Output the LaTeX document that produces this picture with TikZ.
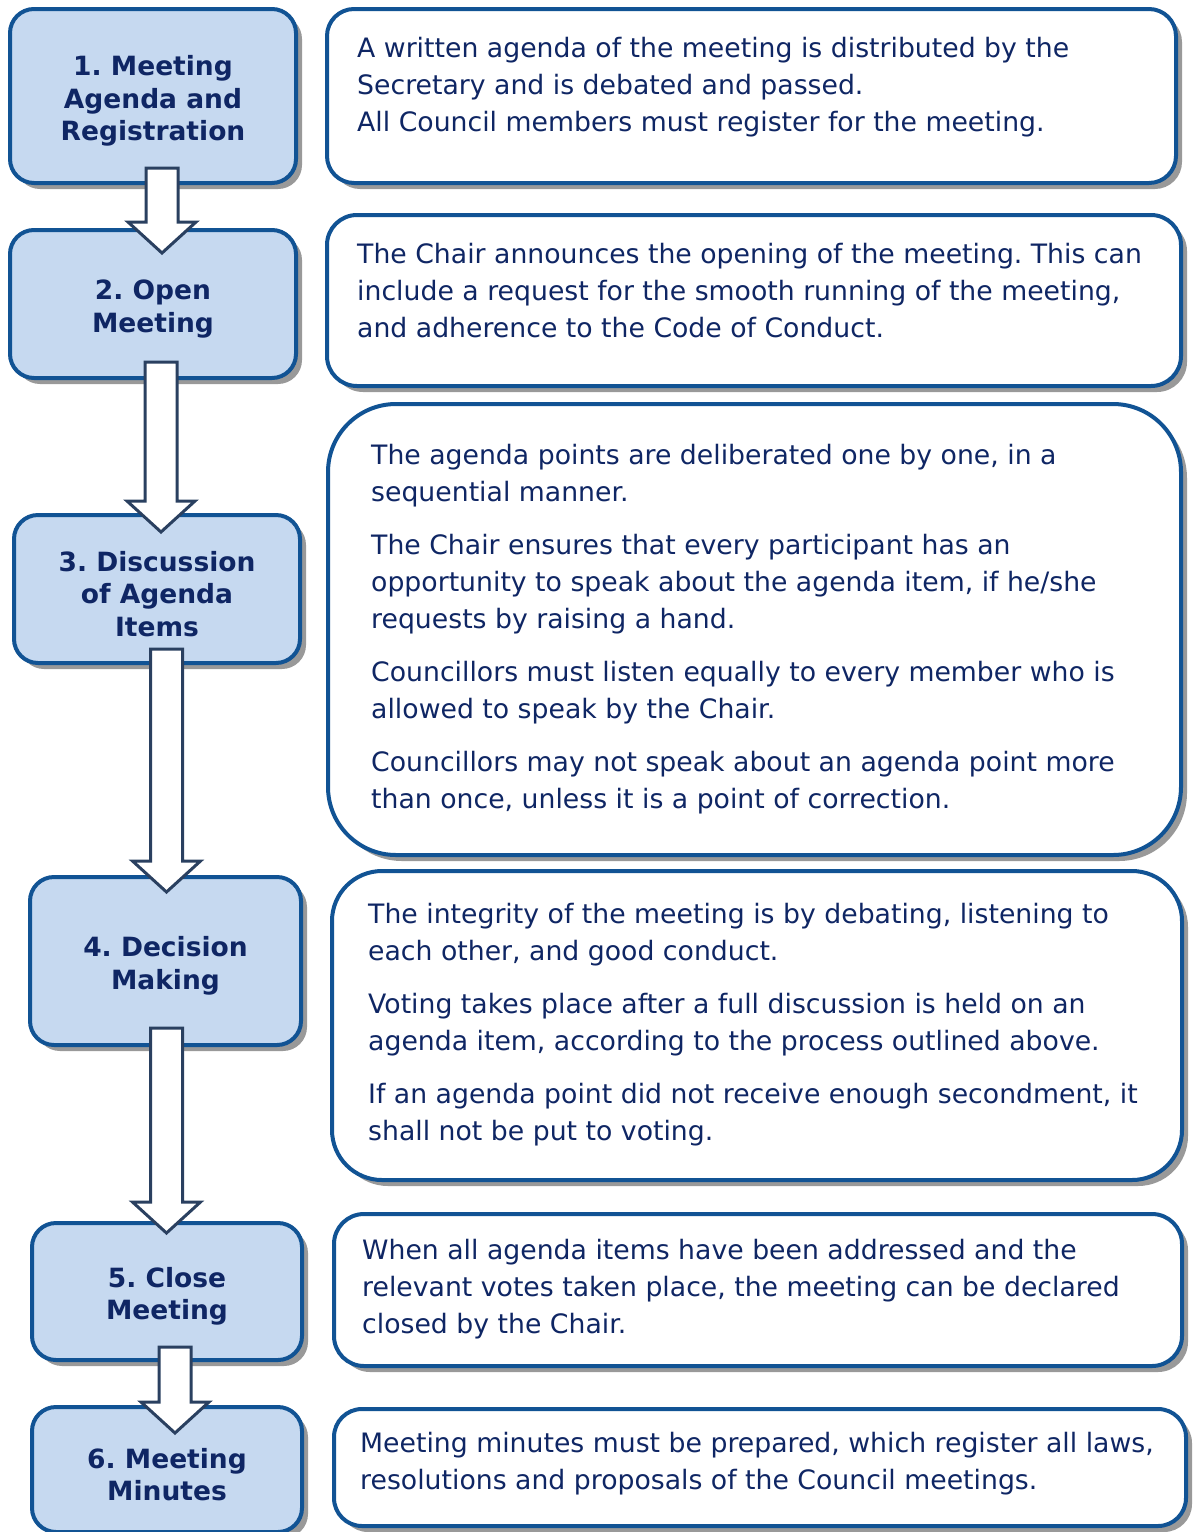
\documentclass[tikz,border=0pt]{standalone}
\usepackage{fontspec}
\setmainfont{DejaVu Sans}
\frenchspacing
\usetikzlibrary{shadows, calc, positioning}
\definecolor{boxblue}{RGB}{17,83,148}
\definecolor{stepfill}{RGB}{198,217,240}
\definecolor{txtnavy}{RGB}{15,38,100}
\definecolor{arrowline}{RGB}{42,64,96}
\newcommand\steplift{\rule{0pt}{30pt}}

\begin{document}
\begin{tikzpicture}[x=1pt, y=-1pt,
    boxshadow/.style={drop shadow={shadow xshift=6pt, shadow yshift=-6pt,
        fill=black!40, opacity=1}},
    stepbox/.style={draw=boxblue, line width=4pt, fill=stepfill,
        rounded corners=24pt, boxshadow, text=txtnavy, align=center,
        font=\fontsize{26.5}{32.5}\selectfont\bfseries},
    descbox/.style={draw=boxblue, line width=4pt, fill=white, boxshadow},
    desctext/.style={anchor=west, align=left, inner sep=0pt, text=txtnavy,
        font=\fontsize{26.7}{37}\selectfont},
    blockarrow/.style={draw=arrowline, line width=3pt, fill=white,
        to path={let \p1=(\tikztostart), \p2=(\tikztotarget) in
            (\x1-16pt,\y1) -- (\x1-16pt,\y2+31pt) -- (\x1-34pt,\y2+31pt)
            -- (\x1,\y2) -- (\x1+34pt,\y2+31pt) -- (\x1+16pt,\y2+31pt)
            -- (\x1+16pt,\y1) -- cycle}}]

    \useasboundingbox (0,0) rectangle (1192,1532);

    % steps on the left
    \node[stepbox, minimum width=286pt, minimum height=174pt] (s1) at (153,96)
        {\steplift 1. Meeting\\Agenda and\\Registration};
    \node[stepbox, minimum width=286pt, minimum height=148pt] (s2) at (153,304)
        {\steplift 2. Open\\Meeting};
    \node[stepbox, minimum width=286pt, minimum height=148pt] (s3) at (157,589)
        {\steplift 3. Discussion\\of Agenda\\Items};
    \node[stepbox, minimum width=271pt, minimum height=168pt] (s4) at (165.5,961)
        {\steplift 4. Decision\\Making};
    \node[stepbox, minimum width=270pt, minimum height=137pt] (s5) at (167,1291.5)
        {\steplift 5. Close\\Meeting};
    \node[stepbox, minimum width=270pt, minimum height=125pt] (s6) at (167,1469.5)
        {\steplift 6. Meeting\\Minutes};

    % descriptions on the right
    \node[descbox, rounded corners=27pt, minimum width=849pt, minimum height=174pt] (d1) at (751.5,96) {};
    \node[descbox, rounded corners=30pt, minimum width=854pt, minimum height=171pt] (d2) at (754,300.5) {};
    \node[descbox, rounded corners=68pt, minimum width=853pt, minimum height=451pt] (d3) at (754.5,629.5) {};
    \node[descbox, rounded corners=50pt, minimum width=850pt, minimum height=309pt] (d4) at (757,1025.5) {};
    \node[descbox, rounded corners=30pt, minimum width=848pt, minimum height=152pt] (d5) at (758,1290) {};
    \node[descbox, rounded corners=28pt, minimum width=852pt, minimum height=117pt] (d6) at (760,1467.5) {};

    \node[desctext] (t1) at (357,87)
        {A written agenda of the meeting is distributed by the\\
         Secretary and is debated and passed.\\
         All Council members must register for the meeting.};
    \node[desctext] (t2) at (357,291)
        {The Chair announces the opening of the meeting. This can\\
         include a request for the smooth running of the meeting,\\
         and adherence to the Code of Conduct.};
    \node[desctext] (t3) at (371,629)
        {The agenda points are deliberated one by one, in a\\
         sequential manner.\\[16pt]
         The Chair ensures that every participant has an\\
         opportunity to speak about the agenda item, if he/she\\
         requests by raising a hand.\\[16pt]
         Councillors must listen equally to every member who is\\
         allowed to speak by the Chair.\\[16pt]
         Councillors may not speak about an agenda point more\\
         than once, unless it is a point of correction.};
    \node[desctext] (t4) at (368,1025)
        {The integrity of the meeting is by debating, listening to\\
         each other, and good conduct.\\[16pt]
         Voting takes place after a full discussion is held on an\\
         agenda item, according to the process outlined above.\\[16pt]
         If an agenda point did not receive enough secondment, it\\
         shall not be put to voting.};
    \node[desctext] (t5) at (362,1289)
        {When all agenda items have been addressed and the\\
         relevant votes taken place, the meeting can be declared\\
         closed by the Chair.};
    \node[desctext] (t6) at (360,1464)
        {Meeting minutes must be prepared, which register all laws,\\
         resolutions and proposals of the Council meetings.};

    % block arrows between the steps
    \draw[blockarrow] ([xshift=9pt,yshift=17pt]s1.south) to ([yshift=-25pt]s2.north);
    \draw[blockarrow] ([xshift=8pt,yshift=18pt]s2.south) to ([yshift=-19pt]s3.north);
    \draw[blockarrow] ([xshift=9.5pt,yshift=16pt]s3.south) to ([yshift=-17pt]s4.north);
    \draw[blockarrow] ([xshift=1pt,yshift=19pt]s4.south) to ([yshift=-12pt]s5.north);
    \draw[blockarrow] ([xshift=8pt,yshift=15pt]s5.south) to ([yshift=-28pt]s6.north);

\end{tikzpicture}
\end{document}
